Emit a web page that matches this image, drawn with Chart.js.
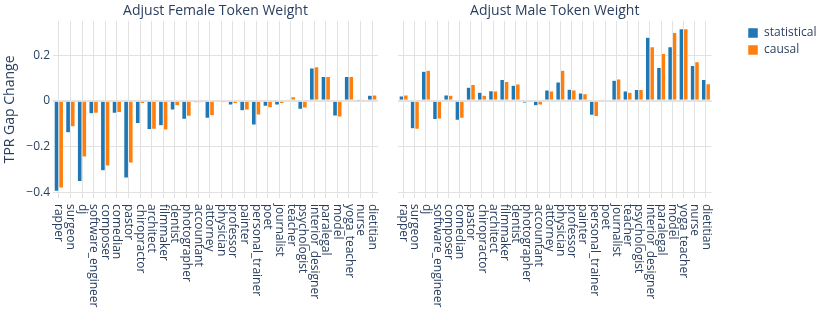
<!DOCTYPE html>
<html>
<head>
<meta charset="utf-8">
<script src="https://cdn.jsdelivr.net/npm/chart.js@4.4.1/dist/chart.umd.min.js"></script>
<style>
    html, body { margin: 0; padding: 0; background: #ffffff; }
    #wrap { position: relative; width: 830px; height: 311px; }
    canvas { position: absolute; top: 0; }
    #female-chart { left: 0; }
    #male-chart { left: 390px; }
</style>
</head>
<body>
<div id="wrap">
    <canvas id="female-chart" width="390" height="311"></canvas>
    <canvas id="male-chart" width="440" height="311"></canvas>
</div>
<script>
// Occupations, same order in both panels
const occupations = [
    'rapper', 'surgeon', 'dj', 'software_engineer', 'composer', 'comedian', 'pastor',
    'chiropractor', 'architect', 'filmmaker', 'dentist', 'photographer', 'accountant',
    'attorney', 'physician', 'professor', 'painter', 'personal_trainer', 'poet',
    'journalist', 'teacher', 'psychologist', 'interior_designer', 'paralegal', 'model',
    'yoga_teacher', 'nurse', 'dietitian'
];

// Adjust Female Token Weight
const femaleStatistical = [
    -0.396, -0.140, -0.353, -0.056, -0.306, -0.054, -0.337, -0.099, -0.125, -0.109,
    -0.040, -0.081, -0.007, -0.076, -0.004, -0.018, -0.043, -0.106, -0.024, -0.018,
    0.003, -0.037, 0.144, 0.106, -0.066, 0.106, 0.001, 0.024
];
const femaleCausal = [
    -0.381, -0.113, -0.246, -0.054, -0.285, -0.051, -0.272, -0.012, -0.124, -0.128,
    -0.022, -0.068, -0.007, -0.065, -0.007, -0.012, -0.040, -0.062, -0.030, -0.012,
    0.018, -0.031, 0.149, 0.106, -0.071, 0.106, 0.001, 0.025
];

// Adjust Male Token Weight
const maleStatistical = [
    0.021, -0.122, 0.129, -0.082, 0.025, -0.085, 0.059, 0.038, 0.044, 0.093,
    0.068, -0.009, -0.021, 0.047, 0.082, 0.051, 0.034, -0.063, 0.003, 0.090,
    0.043, 0.049, 0.278, 0.146, 0.237, 0.315, 0.154, 0.093
];
const maleCausal = [
    0.026, -0.124, 0.134, -0.079, 0.024, -0.076, 0.071, 0.024, 0.043, 0.084,
    0.074, -0.006, -0.018, 0.043, 0.134, 0.047, 0.031, -0.069, 0.000, 0.096,
    0.037, 0.049, 0.237, 0.207, 0.299, 0.315, 0.171, 0.075
];

const yTickValues = [-0.4, -0.2, 0, 0.2];
const yMin = -0.425;
const yMax = 0.35;

const textColor = '#2a3f5f';
const gridColor = '#e2e2e2';
const blue = '#1f77b4';
const orange = '#ff7f0e';

Chart.defaults.font.family = "'Open Sans', sans-serif";
Chart.defaults.font.size = 12;
Chart.defaults.color = textColor;

// Category labels read top-to-bottom (rotated clockwise), drawn under the plot
const rotatedLabels = {
    id: 'rotatedLabels',
    afterDraw(chart) {
        const scale = chart.scales.x;
        const ctx = chart.ctx;
        ctx.save();
        ctx.fillStyle = textColor;
        ctx.font = "12px 'Open Sans', sans-serif";
        ctx.textAlign = 'left';
        ctx.textBaseline = 'middle';
        chart.data.labels.forEach((label, i) => {
            ctx.save();
            ctx.translate(scale.getPixelForValue(i), chart.chartArea.bottom + 6);
            ctx.rotate(Math.PI / 2);
            ctx.fillText(label, 0, 0);
            ctx.restore();
        });
        ctx.restore();
    }
};

// Put the legend in the top-right corner, away from the plot
const legendPlacement = {
    id: 'legendPlacement',
    afterLayout(chart) {
        const lg = chart.legend;
        if (!lg) return;
        const w = lg.width, h = lg.height;
        lg.left = 353;
        lg.top = 22;
        lg.right = lg.left + w;
        lg.bottom = lg.top + h;
    }
};

function makeDatasets(stat, causal) {
    return [
        {
            label: 'statistical',
            data: stat,
            backgroundColor: blue,
            borderColor: '#ffffff',
            borderWidth: 0.5,
            categoryPercentage: 0.8,
            barPercentage: 1.0
        },
        {
            label: 'causal',
            data: causal,
            backgroundColor: orange,
            borderColor: '#ffffff',
            borderWidth: 0.5,
            categoryPercentage: 0.8,
            barPercentage: 1.0
        }
    ];
}

function xScale() {
    return {
        grid: { color: gridColor, offset: false, drawTicks: false },
        border: { display: false },
        ticks: { display: false },
        afterFit: s => { s.height = 113; }
    };
}

function yScale(showLabels) {
    return {
        min: yMin,
        max: yMax,
        afterBuildTicks: s => { s.ticks = yTickValues.map(v => ({ value: v })); },
        grid: {
            color: gridColor,
            drawTicks: false,
            lineWidth: c => (c.tick && c.tick.value === 0 ? 2 : 1)
        },
        border: { display: false },
        ticks: {
            display: showLabels,
            padding: 3,
            font: { size: 12 },
            callback: v => (v === 0 ? '0' : (v < 0 ? '\u2212' + Math.abs(v) : String(v)))
        },
        title: {
            display: showLabels,
            text: 'TPR Gap Change',
            font: { size: 14 },
            padding: { top: 2, bottom: 0 }
        },
        afterFit: s => { s.width = showLabels ? 53 : 0; }
    };
}

function panelTitle(text) {
    return {
        display: true,
        text: text,
        fullSize: false,
        font: { size: 14, weight: 'normal' },
        padding: { top: 3, bottom: 1 }
    };
}

new Chart(document.getElementById('female-chart'), {
    type: 'bar',
    data: {
        labels: occupations,
        datasets: makeDatasets(femaleStatistical, femaleCausal)
    },
    options: {
        responsive: false,
        animation: false,
        layout: { padding: { left: 0, right: 12, top: 0, bottom: 0 } },
        plugins: {
            legend: { display: false },
            tooltip: { enabled: false },
            title: panelTitle('Adjust Female Token Weight')
        },
        scales: { x: xScale(), y: yScale(true) }
    },
    plugins: [rotatedLabels]
});

new Chart(document.getElementById('male-chart'), {
    type: 'bar',
    data: {
        labels: occupations,
        datasets: makeDatasets(maleStatistical, maleCausal)
    },
    options: {
        responsive: false,
        animation: false,
        layout: { padding: { left: 8, right: 35, top: 0, bottom: 0 } },
        plugins: {
            legend: {
                position: 'right',
                align: 'start',
                labels: {
                    boxWidth: 10,
                    boxHeight: 10,
                    padding: 5,
                    font: { size: 12 }
                }
            },
            tooltip: { enabled: false },
            title: panelTitle('Adjust Male Token Weight')
        },
        scales: { x: xScale(), y: yScale(false) }
    },
    plugins: [rotatedLabels, legendPlacement]
});
</script>
</body>
</html>
